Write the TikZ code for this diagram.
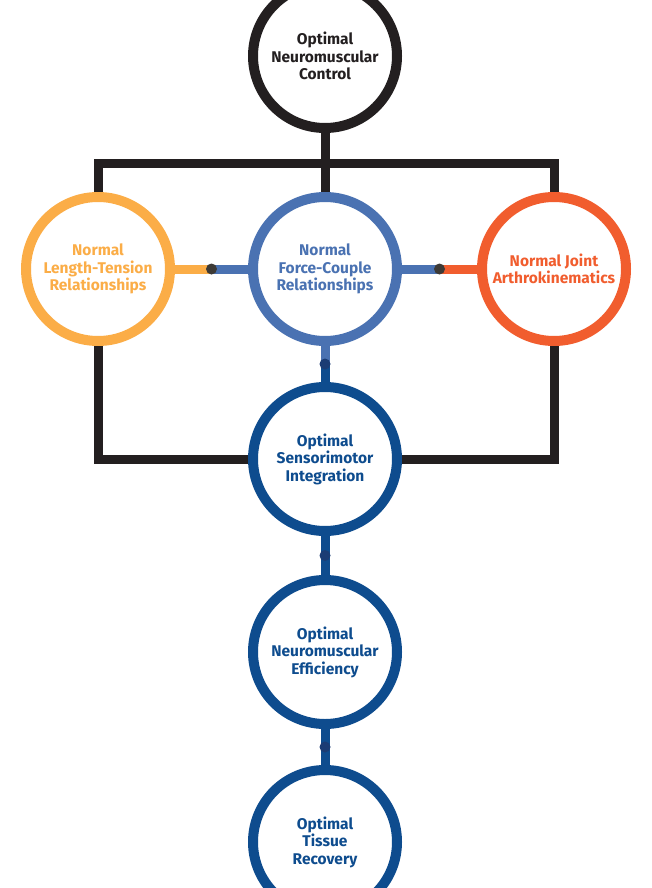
\documentclass[tikz,border=0pt]{standalone}
\usepackage{fontspec}
\setmainfont{Fira Sans}
\usetikzlibrary{calc}

\definecolor{ink}{HTML}{231F20}
\definecolor{peach}{HTML}{FBAD47}
\definecolor{steel}{HTML}{4A72B2}
\definecolor{flame}{HTML}{F15D2E}
\definecolor{navy}{HTML}{0E4C8E}
\definecolor{knotgray}{HTML}{3D3A36}
\definecolor{knotblue}{HTML}{1B3C74}

\begin{document}
\begin{tikzpicture}[x=1pt,y=-1pt,
 stage/.style={circle, draw=#1, text=#1, line width=10pt, fill=white,
   minimum size=144pt, inner sep=0pt, align=center,
   font=\fontsize{15.5}{17.5}\selectfont\bfseries},
 link/.style={line width=9pt, line join=miter},
 knot/.style={circle, fill=#1, inner sep=0pt, minimum size=11pt}]

  \useasboundingbox (0,0) rectangle (651,888);

  \node[stage=ink] (control) at (325,56) {Optimal\\Neuromuscular\\Control};
  \node[stage=peach] (lengthT) at (98,269) {Normal\\Length-Tension\\Relationships};
  \node[stage=steel] (forceC) at (325,269) {Normal\\Force-Couple\\Relationships};
  \node[stage=flame] (joint) at (554,269) {Normal Joint\\Arthrokinematics};
  \node[stage=navy] (sensor) at (325,459) {Optimal\\Sensorimotor\\Integration};
  \node[stage=navy] (effic) at (325,652) {Optimal\\Neuromuscular\\Efficiency};
  \node[stage=navy] (tissue) at (325,842) {Optimal\\Tissue\\Recovery};

  \coordinate (bar) at (325,163);

  % black frame
  \draw[link, ink] (lengthT.north) -- (lengthT.north |- bar)
    -- (joint.north |- bar) -- (joint.north);
  \draw[link, ink] (control.south) -- (forceC.north);
  \draw[link, ink] (lengthT.south) |- (sensor.west);
  \draw[link, ink] (joint.south) |- (sensor.east);

  % coloured links
  \coordinate (kL) at ($(lengthT.east)!0.5!(forceC.west)$);
  \coordinate (kR) at ($(forceC.east)!0.5!(joint.west)$);
  \coordinate (kS) at ($(forceC.south)!0.5!(sensor.north)$);
  \coordinate (kE) at ($(sensor.south)!0.5!(effic.north)$);
  \coordinate (kT) at ($(effic.south)!0.5!(tissue.north)$);

  \draw[link, peach] (lengthT.east) -- (kL);
  \draw[link, steel] (kL) -- (forceC.west);
  \draw[link, steel] (forceC.east) -- (kR);
  \draw[link, flame] (kR) -- (joint.west);
  \draw[link, steel] (forceC.south) -- (kS);
  \draw[link, navy] (kS) -- (sensor.north);
  \draw[link, navy] (sensor.south) -- (effic.north);
  \draw[link, navy] (effic.south) -- (tissue.north);

  \node[knot=knotgray] at (kL) {};
  \node[knot=knotgray] at (kR) {};
  \node[knot=knotblue] at (kS) {};
  \node[knot=knotblue] at (kE) {};
  \node[knot=knotblue] at (kT) {};
\end{tikzpicture}
\end{document}
